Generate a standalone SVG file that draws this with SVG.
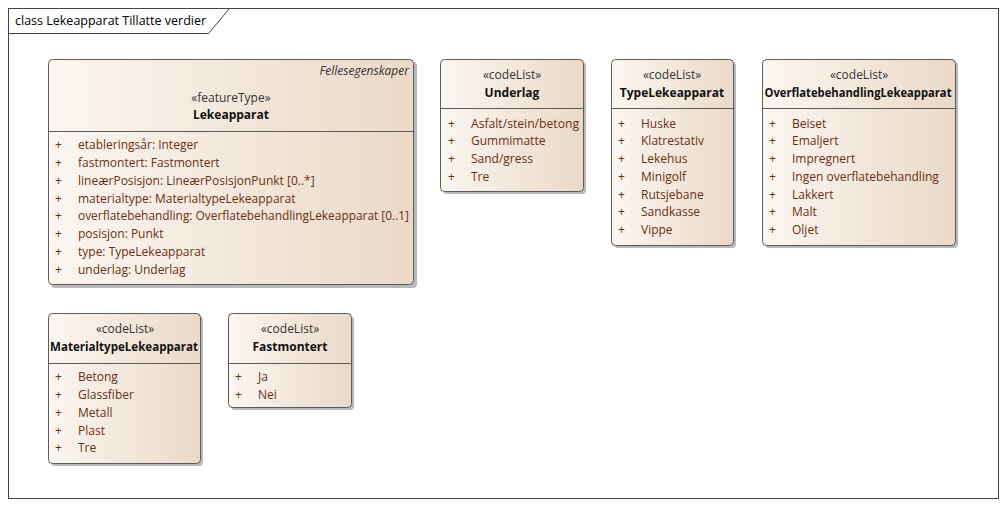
<svg xmlns="http://www.w3.org/2000/svg" width="1007" height="508" viewBox="0 0 1007 508">
<defs>
<linearGradient id="g" x1="0" y1="0" x2="1" y2="0">
<stop offset="0" stop-color="#fbf6f1"/>
<stop offset="1" stop-color="#ead9c7"/>
</linearGradient>
<style>
text{font-family:"Open Sans","Liberation Sans",sans-serif;font-size:12px}
.box{fill:url(#g);stroke:#5b5b5b;stroke-width:1}
.sh{fill:#b9b9b9}
.div{stroke:#5b5b5b;stroke-width:1}
.st{fill:#333;text-anchor:middle}
.nm{fill:#111;font-weight:bold;text-anchor:middle}
.it{fill:#6b2f12}
.pl{fill:#6b2f12}
.ital{font-style:italic;fill:#333;text-anchor:end}
.ttl{fill:#000;font-size:12.5px}
</style>
</defs>
<rect x="0" y="0" width="1007" height="508" fill="#ffffff"/>
<g id="frame">
<rect x="8.5" y="8.5" width="990" height="490" fill="none" stroke="#444"/>
<path d="M8.5 33.5 H208.5 L229.5 8.5" fill="none" stroke="#444"/>
<text class="ttl" x="15" y="25">class Lekeapparat Tillatte verdier</text>
</g>
<g id="connectors"></g>
<g id="Lekeapparat">
<rect class="sh" x="51" y="62" width="366" height="226" rx="4"/>
<rect class="box" x="48.5" y="59.5" width="365" height="225" rx="4"/>
<line class="div" x1="48.5" y1="131.5" x2="413.5" y2="131.5"/>
<text class="ital" x="409" y="75">Fellesegenskaper</text>
<text class="st" x="231" y="102">«featureType»</text>
<text class="nm" x="231" y="119">Lekeapparat</text>
<g class="it">
<text x="55" y="149">+</text><text x="78" y="149">etableringsår: Integer</text>
<text x="55" y="167">+</text><text x="78" y="167">fastmontert: Fastmontert</text>
<text x="55" y="185">+</text><text x="78" y="185">lineærPosisjon: LineærPosisjonPunkt [0..*]</text>
<text x="55" y="203">+</text><text x="78" y="203">materialtype: MaterialtypeLekeapparat</text>
<text x="55" y="220">+</text><text x="78" y="220" textLength="331" lengthAdjust="spacingAndGlyphs">overflatebehandling: OverflatebehandlingLekeapparat [0..1]</text>
<text x="55" y="238">+</text><text x="78" y="238">posisjon: Punkt</text>
<text x="55" y="256">+</text><text x="78" y="256">type: TypeLekeapparat</text>
<text x="55" y="274">+</text><text x="78" y="274">underlag: Underlag</text>
</g>
</g>
<g id="Underlag">
<rect class="sh" x="443" y="62" width="143" height="132" rx="4"/>
<rect class="box" x="440.5" y="59.5" width="143" height="132" rx="4"/>
<line class="div" x1="440.5" y1="108.5" x2="583.5" y2="108.5"/>
<text class="st" x="512" y="79">«codeList»</text>
<text class="nm" x="512" y="97">Underlag</text>
<g class="it">
<text x="448" y="128">+</text><text x="471" y="128" textLength="108" lengthAdjust="spacingAndGlyphs">Asfalt/stein/betong</text>
<text x="448" y="145">+</text><text x="471" y="145">Gummimatte</text>
<text x="448" y="163">+</text><text x="471" y="163">Sand/gress</text>
<text x="448" y="181">+</text><text x="471" y="181">Tre</text>
</g>
</g>
<g id="TypeLekeapparat">
<rect class="sh" x="614" y="62" width="122" height="186" rx="4"/>
<rect class="box" x="611.5" y="59.5" width="122" height="186" rx="4"/>
<line class="div" x1="611.5" y1="108.5" x2="733.5" y2="108.5"/>
<text class="st" x="672" y="79">«codeList»</text>
<text class="nm" x="672" y="97">TypeLekeapparat</text>
<g class="it">
<text x="618" y="128">+</text><text x="641" y="128">Huske</text>
<text x="618" y="145">+</text><text x="641" y="145">Klatrestativ</text>
<text x="618" y="163">+</text><text x="641" y="163">Lekehus</text>
<text x="618" y="181">+</text><text x="641" y="181">Minigolf</text>
<text x="618" y="199">+</text><text x="641" y="199">Rutsjebane</text>
<text x="618" y="216">+</text><text x="641" y="216">Sandkasse</text>
<text x="618" y="234">+</text><text x="641" y="234">Vippe</text>
</g>
</g>
<g id="OverflatebehandlingLekeapparat">
<rect class="sh" x="765" y="62" width="193" height="186" rx="4"/>
<rect class="box" x="762.5" y="59.5" width="193" height="186" rx="4"/>
<line class="div" x1="762.5" y1="108.5" x2="955.5" y2="108.5"/>
<text class="st" x="859" y="79">«codeList»</text>
<text class="nm" x="858" y="97" textLength="187" lengthAdjust="spacingAndGlyphs">OverflatebehandlingLekeapparat</text>
<g class="it">
<text x="769" y="128">+</text><text x="792" y="128">Beiset</text>
<text x="769" y="145">+</text><text x="792" y="145">Emaljert</text>
<text x="769" y="163">+</text><text x="792" y="163">Impregnert</text>
<text x="769" y="181">+</text><text x="792" y="181">Ingen overflatebehandling</text>
<text x="769" y="199">+</text><text x="792" y="199">Lakkert</text>
<text x="769" y="216">+</text><text x="792" y="216">Malt</text>
<text x="769" y="234">+</text><text x="792" y="234">Oljet</text>
</g>
</g>
<g id="MaterialtypeLekeapparat">
<rect class="sh" x="51" y="316" width="152" height="150" rx="4"/>
<rect class="box" x="48.5" y="313.5" width="152" height="150" rx="4"/>
<line class="div" x1="48.5" y1="363.5" x2="200.5" y2="363.5"/>
<text class="st" x="125" y="333">«codeList»</text>
<text class="nm" x="124" y="351" textLength="148" lengthAdjust="spacingAndGlyphs">MaterialtypeLekeapparat</text>
<g class="it">
<text x="55" y="381">+</text><text x="78" y="381">Betong</text>
<text x="55" y="399">+</text><text x="78" y="399">Glassfiber</text>
<text x="55" y="417">+</text><text x="78" y="417">Metall</text>
<text x="55" y="435">+</text><text x="78" y="435">Plast</text>
<text x="55" y="452">+</text><text x="78" y="452">Tre</text>
</g>
</g>
<g id="Fastmontert">
<rect class="sh" x="231" y="316" width="123" height="94" rx="4"/>
<rect class="box" x="228.5" y="313.5" width="123" height="94" rx="4"/>
<line class="div" x1="228.5" y1="363.5" x2="351.5" y2="363.5"/>
<text class="st" x="290" y="333">«codeList»</text>
<text class="nm" x="290" y="351">Fastmontert</text>
<g class="it">
<text x="235" y="381">+</text><text x="258" y="381">Ja</text>
<text x="235" y="399">+</text><text x="258" y="399">Nei</text>
</g>
</g>
</svg>
